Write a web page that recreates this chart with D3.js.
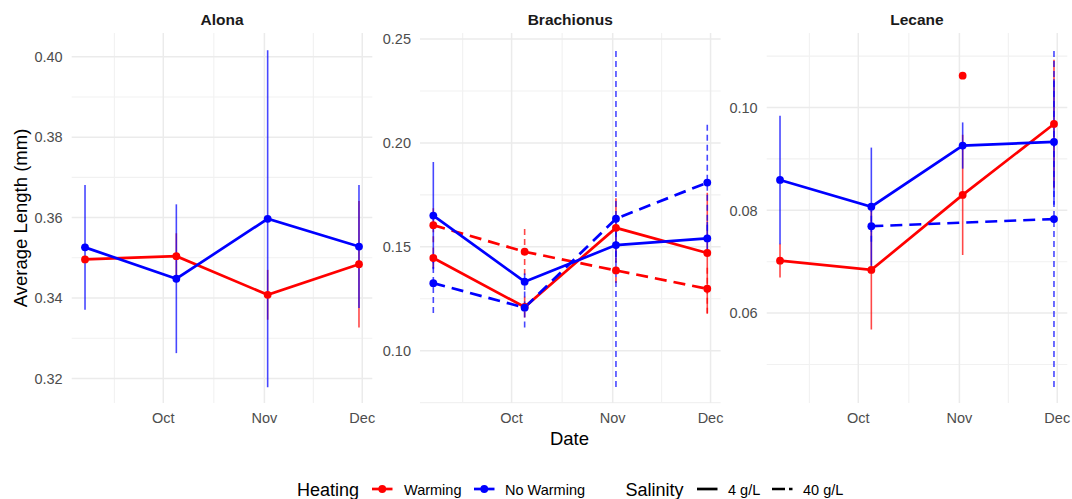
<!DOCTYPE html>
<html>
<head>
<meta charset="utf-8">
<script src="https://cdn.jsdelivr.net/npm/d3@7"></script>
<style>
  body { margin: 0; background: #fff; }
  svg { display: block; font-family: "Liberation Sans", Arial, sans-serif; }
</style>
</head>
<body>
<svg id="chart" width="1072" height="499"></svg>
<script>
// ---- data ---------------------------------------------------------------
const sampleDates = ["2023-09-07", "2023-10-05", "2023-11-02", "2023-11-30"];
const taxa = ["Alona", "Brachionus", "Lecane"];
const heatingLevels = ["Warming", "No Warming"];
const salinityLevels = ["4 g/L", "40 g/L"];

const dateRange = ["2023-09-02T22:00:00Z", "2023-12-04T02:00:00Z"];
const monthTicks = ["2023-10-01", "2023-11-01", "2023-12-01"];
const monthLabels = ["Oct", "Nov", "Dec"];
const minorDateTicks = ["2023-09-16", "2023-10-16T12:00:00Z", "2023-11-16"];

// mean body length (mm) and standard error per sampling date; null = no sample
const alonaWarm4 = [0.3496, 0.3504, 0.3408, 0.3484];
const alonaWarm4Se = [null, 0.0057, 0.0062, 0.0157];
const alonaWarm40 = [null, null, null, null];
const alonaWarm40Se = [null, null, null, null];
const alonaCool4 = [0.3526, 0.3448, 0.3597, 0.3528];
const alonaCool4Se = [0.0155, 0.0185, 0.0419, 0.0153];
const alonaCool40 = [null, null, null, null];
const alonaCool40Se = [null, null, null, null];

const brachWarm4 = [0.1446, 0.1210, 0.1591, 0.1470];
const brachWarm4Se = [0.0050, 0.0050, 0.0143, 0.0290];
const brachWarm40 = [0.1604, 0.1476, 0.1386, 0.1298];
const brachWarm40Se = [0.0082, 0.0112, 0.0060, 0.0120];
const brachCool4 = [0.1650, 0.1332, 0.1508, 0.1540];
const brachCool4Se = [0.0258, 0.0040, 0.0080, 0.0080];
const brachCool40 = [0.1325, 0.1207, 0.1635, 0.1809];
const brachCool40Se = [0.0144, 0.0095, 0.0810, 0.0280];

const leconWarm4 = [0.0702, 0.0684, 0.0830, 0.0968];
const leconWarm4Se = [0.0033, 0.0116, 0.0117, 0.0125];
const leconWarm40 = [null, null, 0.1062, null];
const leconWarm40Se = [null, null, null, null];
const leconCool4 = [0.0859, 0.0807, 0.0926, 0.0933];
const leconCool4Se = [0.0125, 0.0115, 0.0045, 0.0122];
const leconCool40 = [null, 0.0769, null, 0.0783];
const leconCool40Se = [null, 0.0030, null, 0.0327];

// y ranges and ticks for the free y scales
const alonaYDomain = [0.3139, 0.4059];
const alonaYTicks = [0.32, 0.34, 0.36, 0.38, 0.40];
const alonaYMinor = [0.33, 0.35, 0.37, 0.39];
const brachYDomain = [0.0748, 0.2529];
const brachYTicks = [0.10, 0.15, 0.20, 0.25];
const brachYMinor = [0.075, 0.125, 0.175, 0.225];
const leconYDomain = [0.0425, 0.1145];
const leconYTicks = [0.06, 0.08, 0.10];
const leconYMinor = [0.05, 0.07, 0.09, 0.11];

// ---- assemble -------------------------------------------------------------
const parseDate = s => new Date(s.length === 10 ? s + "T00:00:00Z" : s);

function makeSeries(taxon, heating, salinity, means, ses) {
  return {
    taxon, heating, salinity,
    values: sampleDates.map((d, i) => ({ date: parseDate(d), mean: means[i], se: ses[i] }))
  };
}

const series = [
  makeSeries("Alona", "Warming", "4 g/L", alonaWarm4, alonaWarm4Se),
  makeSeries("Alona", "Warming", "40 g/L", alonaWarm40, alonaWarm40Se),
  makeSeries("Alona", "No Warming", "4 g/L", alonaCool4, alonaCool4Se),
  makeSeries("Alona", "No Warming", "40 g/L", alonaCool40, alonaCool40Se),
  makeSeries("Brachionus", "Warming", "4 g/L", brachWarm4, brachWarm4Se),
  makeSeries("Brachionus", "Warming", "40 g/L", brachWarm40, brachWarm40Se),
  makeSeries("Brachionus", "No Warming", "4 g/L", brachCool4, brachCool4Se),
  makeSeries("Brachionus", "No Warming", "40 g/L", brachCool40, brachCool40Se),
  makeSeries("Lecane", "Warming", "4 g/L", leconWarm4, leconWarm4Se),
  makeSeries("Lecane", "Warming", "40 g/L", leconWarm40, leconWarm40Se),
  makeSeries("Lecane", "No Warming", "4 g/L", leconCool4, leconCool4Se),
  makeSeries("Lecane", "No Warming", "40 g/L", leconCool40, leconCool40Se)
];

const yConfig = {
  Alona: { domain: alonaYDomain, ticks: alonaYTicks, minor: alonaYMinor },
  Brachionus: { domain: brachYDomain, ticks: brachYTicks, minor: brachYMinor },
  Lecane: { domain: leconYDomain, ticks: leconYTicks, minor: leconYMinor }
};

// ---- layout & styles ---------------------------------------------------------
const svg = d3.select("#chart");
const panelLeft = [71.7, 420.0, 766.7];
const panelW = 300.6;
const panelTop = 33, panelBottom = 403;

const color = d3.scaleOrdinal().domain(heatingLevels).range(["#FF0000", "#0000FF"]);
const lineDash = d3.scaleOrdinal().domain(salinityLevels).range(["none", "12 7"]);
const barDash = d3.scaleOrdinal().domain(salinityLevels).range(["none", "6 4"]);

const x = d3.scaleUtc()
  .domain(dateRange.map(parseDate))
  .range([0, panelW]);

const gridMajor = "#EBEBEB", gridMinor = "#F1F1F1";
const fmt = d3.format(".2f");

taxa.forEach((taxon, pi) => {
  const cfg = yConfig[taxon];
  const y = d3.scaleLinear().domain(cfg.domain).range([panelBottom, panelTop]);
  const g = svg.append("g").attr("transform", `translate(${panelLeft[pi]},0)`);

  // grid
  g.selectAll(".ymin").data(cfg.minor).join("line")
    .attr("x1", 0).attr("x2", panelW)
    .attr("y1", d => y(d)).attr("y2", d => y(d))
    .attr("stroke", gridMinor).attr("stroke-width", 1.1);
  g.selectAll(".xmin").data(minorDateTicks.map(parseDate)).join("line")
    .attr("x1", d => x(d)).attr("x2", d => x(d))
    .attr("y1", panelTop).attr("y2", panelBottom)
    .attr("stroke", gridMinor).attr("stroke-width", 1.1);
  g.selectAll(".ymaj").data(cfg.ticks).join("line")
    .attr("x1", 0).attr("x2", panelW)
    .attr("y1", d => y(d)).attr("y2", d => y(d))
    .attr("stroke", gridMajor).attr("stroke-width", 1.5);
  g.selectAll(".xmaj").data(monthTicks.map(parseDate)).join("line")
    .attr("x1", d => x(d)).attr("x2", d => x(d))
    .attr("y1", panelTop).attr("y2", panelBottom)
    .attr("stroke", gridMajor).attr("stroke-width", 1.5);

  // axis labels
  g.selectAll(".ylab").data(cfg.ticks).join("text")
    .attr("x", -9).attr("y", d => y(d)).attr("dy", "0.36em")
    .attr("text-anchor", "end").attr("font-size", 14.5).attr("fill", "#4D4D4D")
    .text(d => fmt(d));
  g.selectAll(".xlab").data(monthTicks).join("text")
    .attr("x", d => x(parseDate(d))).attr("y", 423)
    .attr("text-anchor", "middle").attr("font-size", 14.5).attr("fill", "#4D4D4D")
    .text((d, i) => monthLabels[i]);

  // strip title
  g.append("text")
    .attr("x", panelW / 2).attr("y", 25)
    .attr("text-anchor", "middle").attr("font-size", 15.5).attr("font-weight", "bold")
    .attr("fill", "#1A1A1A").text(taxon);

  const panelSeries = series.filter(s => s.taxon === taxon);

  // error bars
  panelSeries.forEach(s => {
    g.append("g").selectAll("line")
      .data(s.values.filter(v => v.mean != null && v.se != null))
      .join("line")
      .attr("x1", d => x(d.date)).attr("x2", d => x(d.date))
      .attr("y1", d => y(d.mean - d.se)).attr("y2", d => y(d.mean + d.se))
      .attr("stroke", color(s.heating)).attr("stroke-opacity", 0.72)
      .attr("stroke-width", 1.6)
      .attr("stroke-dasharray", barDash(s.salinity));
  });

  // lines
  const line = d3.line().x(d => x(d.date)).y(d => y(d.mean));
  panelSeries.forEach(s => {
    const pts = s.values.filter(v => v.mean != null);
    if (pts.length < 2) return;
    g.append("path").datum(pts)
      .attr("d", line)
      .attr("fill", "none")
      .attr("stroke", color(s.heating)).attr("stroke-width", 2.7)
      .attr("stroke-dasharray", lineDash(s.salinity));
  });

  // points
  panelSeries.forEach(s => {
    g.append("g").selectAll("circle")
      .data(s.values.filter(v => v.mean != null))
      .join("circle")
      .attr("cx", d => x(d.date)).attr("cy", d => y(d.mean))
      .attr("r", 3.9).attr("fill", color(s.heating));
  });
});

// axis titles
svg.append("text")
  .attr("transform", `translate(27,${(panelTop + panelBottom) / 2}) rotate(-90)`)
  .attr("text-anchor", "middle").attr("font-size", 18.5).attr("fill", "#000")
  .text("Average Length (mm)");
svg.append("text")
  .attr("x", (panelLeft[0] + panelLeft[2] + panelW) / 2).attr("y", 445)
  .attr("text-anchor", "middle").attr("font-size", 18.5).attr("fill", "#000")
  .text("Date");

// ---- legend ------------------------------------------------------------------
const legY = 489;
const leg = svg.append("g");
leg.append("text").attr("x", 297).attr("y", legY + 6.5)
  .attr("font-size", 18).attr("fill", "#000").text("Heating");

const heatKeys = [
  { level: heatingLevels[0], kx: 372, tx: 404 },
  { level: heatingLevels[1], kx: 474, tx: 505 }
];
heatKeys.forEach(k => {
  leg.append("line").attr("x1", k.kx).attr("x2", k.kx + 20.5)
    .attr("y1", legY).attr("y2", legY)
    .attr("stroke", color(k.level)).attr("stroke-width", 2.7);
  leg.append("circle").attr("cx", k.kx + 10.25).attr("cy", legY).attr("r", 3.9)
    .attr("fill", color(k.level));
  leg.append("text").attr("x", k.tx).attr("y", legY + 5.5)
    .attr("font-size", 14.5).attr("fill", "#000").text(k.level);
});

leg.append("text").attr("x", 625.5).attr("y", legY + 6.5)
  .attr("font-size", 18).attr("fill", "#000").text("Salinity");

const salKeys = [
  { level: salinityLevels[0], kx: 697, tx: 728 },
  { level: salinityLevels[1], kx: 772, tx: 803 }
];
salKeys.forEach(k => {
  leg.append("line").attr("x1", k.kx).attr("x2", k.kx + 20.5)
    .attr("y1", legY).attr("y2", legY)
    .attr("stroke", "#000").attr("stroke-width", 2.7)
    .attr("stroke-dasharray", k.level === salinityLevels[1] ? "13 4" : lineDash(k.level));
});
salKeys.forEach(k => {
  leg.append("text").attr("x", k.tx).attr("y", legY + 5.5)
    .attr("font-size", 14.5).attr("fill", "#000").text(k.level);
});
</script>
</body>
</html>
